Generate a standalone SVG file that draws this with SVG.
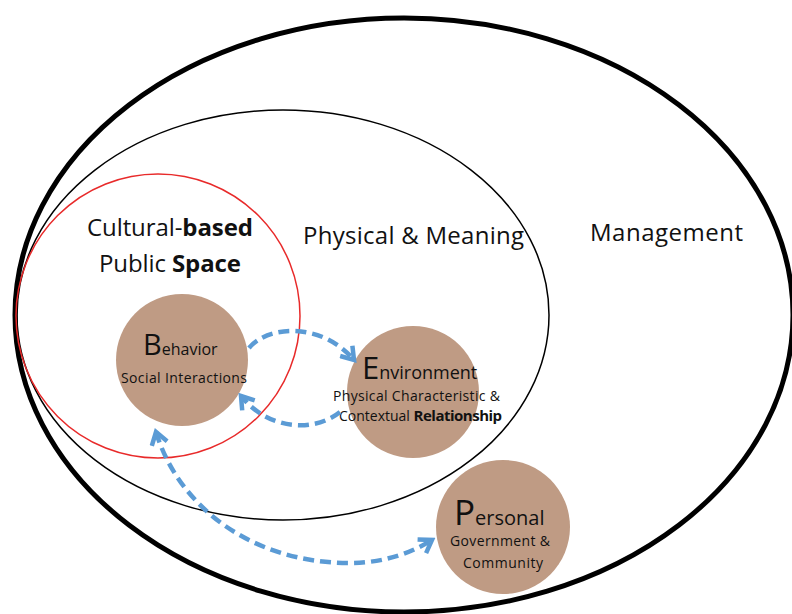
<svg xmlns="http://www.w3.org/2000/svg" width="792" height="614" viewBox="0 0 792 614">
<style>
text{font-family:"Open Sans","Noto Sans",sans-serif;fill:#111}
.b{font-weight:bold}
.node{fill:#BF9B84}
.conn{fill:none;stroke:#5B9BD5;stroke-width:4.5;stroke-dasharray:11 6}
</style>
<defs>
<marker id="ah" markerUnits="userSpaceOnUse" markerWidth="20" markerHeight="20" viewBox="0 0 20 20" refX="16" refY="10" orient="auto-start-reverse">
<path d="M4,2 L16,10 L4,18" fill="none" stroke="#5B9BD5" stroke-width="4.5"/>
</marker>
</defs>
<rect width="792" height="614" fill="#fff"/>
<g id="management">
<ellipse cx="404" cy="315" rx="389" ry="297" fill="none" stroke="#000" stroke-width="5"/>
<text x="590" y="241" font-size="24" textLength="153">Management</text>
</g>
<g id="physical-meaning">
<ellipse cx="283" cy="315" rx="266" ry="205" fill="none" stroke="#000" stroke-width="1.5"/>
<text x="303" y="244" font-size="24" textLength="221">Physical &amp; Meaning</text>
</g>
<g id="cultural-public-space">
<circle cx="158" cy="316" r="142" fill="none" stroke="#E82A2A" stroke-width="1.5"/>
<text x="87" y="236" font-size="24" textLength="166">Cultural-<tspan class="b">based</tspan></text>
<text x="99" y="272" font-size="24" textLength="142">Public <tspan class="b">Space</tspan></text>
</g>
<g id="behavior">
<circle class="node" cx="182" cy="360" r="66"/>
<text x="143" y="355" font-size="29">B<tspan font-size="16">ehavior</tspan></text>
<text x="121" y="383" font-size="14" textLength="126">Social Interactions</text>
</g>
<g id="environment">
<circle class="node" cx="413" cy="392" r="66"/>
<text x="362" y="379" font-size="31">E<tspan font-size="18">nvironment</tspan></text>
<text x="333" y="401" font-size="14" textLength="167">Physical Characteristic &amp;</text>
<text x="339" y="421" font-size="14">Contextual <tspan class="b" font-size="15" letter-spacing="-0.5">Relationship</tspan></text>
</g>
<g id="personal">
<circle class="node" cx="503" cy="527" r="67"/>
<text x="454" y="525" font-size="35">P<tspan font-size="20">ersonal</tspan></text>
<text x="450" y="546" font-size="14" textLength="100">Government &amp;</text>
<text x="463" y="568" font-size="14" textLength="80">Community</text>
</g>
<g id="connectors">
<path class="conn" d="M249,348 C268,325 322,322 354,360" marker-end="url(#ah)"/>
<path class="conn" d="M340,412 C314,433 268,430 241,396" marker-end="url(#ah)"/>
<path class="conn" d="M156,432 C178,505 250,563 350,563 C388,563 416,550 432,540" marker-start="url(#ah)" marker-end="url(#ah)"/>
</g>
</svg>
